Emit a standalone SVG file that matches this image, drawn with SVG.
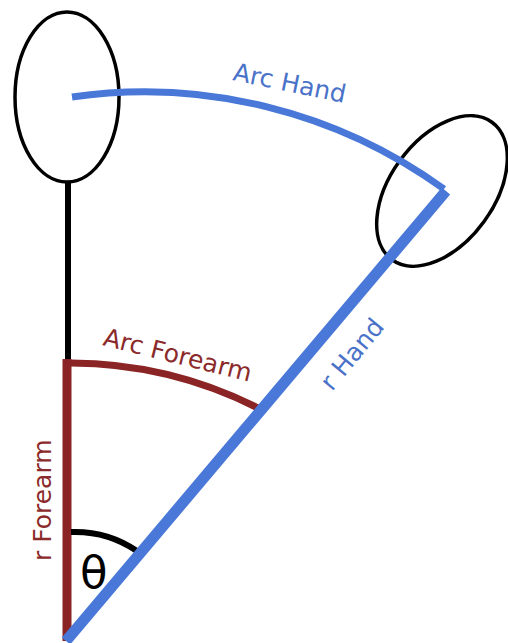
<svg xmlns="http://www.w3.org/2000/svg" width="508" height="643" viewBox="0 0 508 643">
  <style>
    .joint { fill: none; stroke: #000; stroke-width: 3.5; }
    .blue { stroke: #4a78d8; fill: none; }
    .red { stroke: #8b2525; fill: none; }
    .blk { stroke: #000; fill: none; }
    .lbl { font-family: "DejaVu Sans", sans-serif; font-size: 25px; }
    .lblue { fill: #4a72c8; }
    .lred { fill: #8b2a2a; }
  </style>
  <rect width="508" height="643" fill="#fff"/>
  <g id="joint-top">
    <ellipse class="joint" cx="67" cy="97" rx="52" ry="85"/>
  </g>
  <g id="joint-hand">
    <ellipse class="joint" cx="442" cy="191" rx="52" ry="85" transform="rotate(36 442 191)"/>
  </g>
  <g id="connectors">
    <line class="blk" x1="68" y1="182" x2="68" y2="362" stroke-width="6"/>
    <line class="red" x1="67" y1="359" x2="67" y2="641" stroke-width="9"/>
    <path class="red" d="M 71 363 A 418 418 0 0 1 258 408" stroke-width="7"/>
    <path class="blk" d="M 71 532 A 110 110 0 0 1 137 551" stroke-width="6"/>
    <path class="blue" d="M 72 97 A 511 511 0 0 1 444 189" stroke-width="7"/>
    <line class="blue" x1="66" y1="641" x2="446" y2="191" stroke-width="11"/>
  </g>
  <g id="labels">
    <text class="lbl lblue" transform="translate(232 80) rotate(11.5)">Arc Hand</text>
    <text class="lbl lred" transform="translate(102 345) rotate(14)">Arc Forearm</text>
    <text class="lbl lred" transform="translate(51 561) rotate(-90)">r Forearm</text>
    <text class="lbl lblue" transform="translate(332 392) rotate(-50.5)">r Hand</text>
    <text x="80" y="588" style="font-family: 'DejaVu Sans', sans-serif; font-size: 45px;" fill="#000">θ</text>
  </g>
</svg>
